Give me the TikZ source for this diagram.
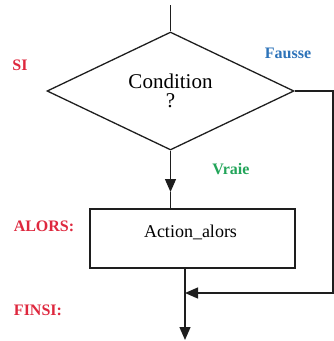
\documentclass[tikz,border=0pt]{standalone}
\usepackage{fontspec}
\setmainfont{Liberation Serif}
\usetikzlibrary{shapes.geometric,arrows.meta}
\definecolor{lblred}{RGB}{222,40,62}
\definecolor{lblblue}{RGB}{45,115,185}
\definecolor{lblgreen}{RGB}{35,165,90}
\definecolor{ink}{RGB}{30,30,30}
\begin{document}
\begin{tikzpicture}[x=1pt,y=-1pt,
  flow/.style={line width=1.3pt,draw=ink},
  tip/.style={-{Triangle[length=13pt,width=11pt]}},
  lbl/.style={font=\fontsize{16}{16}\selectfont\bfseries}]
\useasboundingbox (0,0) rectangle (334,341);
% shapes
\node[diamond, flow, minimum width=247pt, minimum height=118pt, inner sep=0pt,
      aspect=2.09, align=center, font=\fontsize{21}{19}\selectfont] (cond) at (170.5,91) {Condition\\?};
\node[rectangle, flow, minimum width=205pt, minimum height=59pt, inner sep=0pt] (act) at (192.5,238.5) {};
\node[font=\fontsize{18}{18}\selectfont, inner sep=0pt] (acttxt) at (190.5,232) {Action\_alors};
% coordinates
\coordinate (top) at (170.5,5);
\coordinate (m1) at (170.5,192);
\coordinate (rc) at (333,91);
\coordinate (rb) at (333,293);
\coordinate (j) at (185,293);
\coordinate (b0) at (185,268);
\coordinate (endp) at (185,340);
% connectors
\draw[flow] (top) -- (cond.north);
\draw[flow,tip] (cond.south) -- (m1);
\draw[flow] (m1) -- (cond.south |- act.north);
\draw[flow,tip] (cond.east) -- (rc) -- (rb) -- (j);
\draw[flow,tip] (b0) -- (endp);
% labels
\node[lbl, text=lblred] (si) at (20,65) {SI};
\node[lbl, text=lblblue] (fausse) at (288,53) {Fausse};
\node[lbl, text=lblgreen] (vraie) at (231,169) {Vraie};
\node[lbl, text=lblred] (alors) at (44,226) {ALORS:};
\node[lbl, text=lblred] (finsi) at (38,310) {FINSI:};
\end{tikzpicture}
\end{document}
